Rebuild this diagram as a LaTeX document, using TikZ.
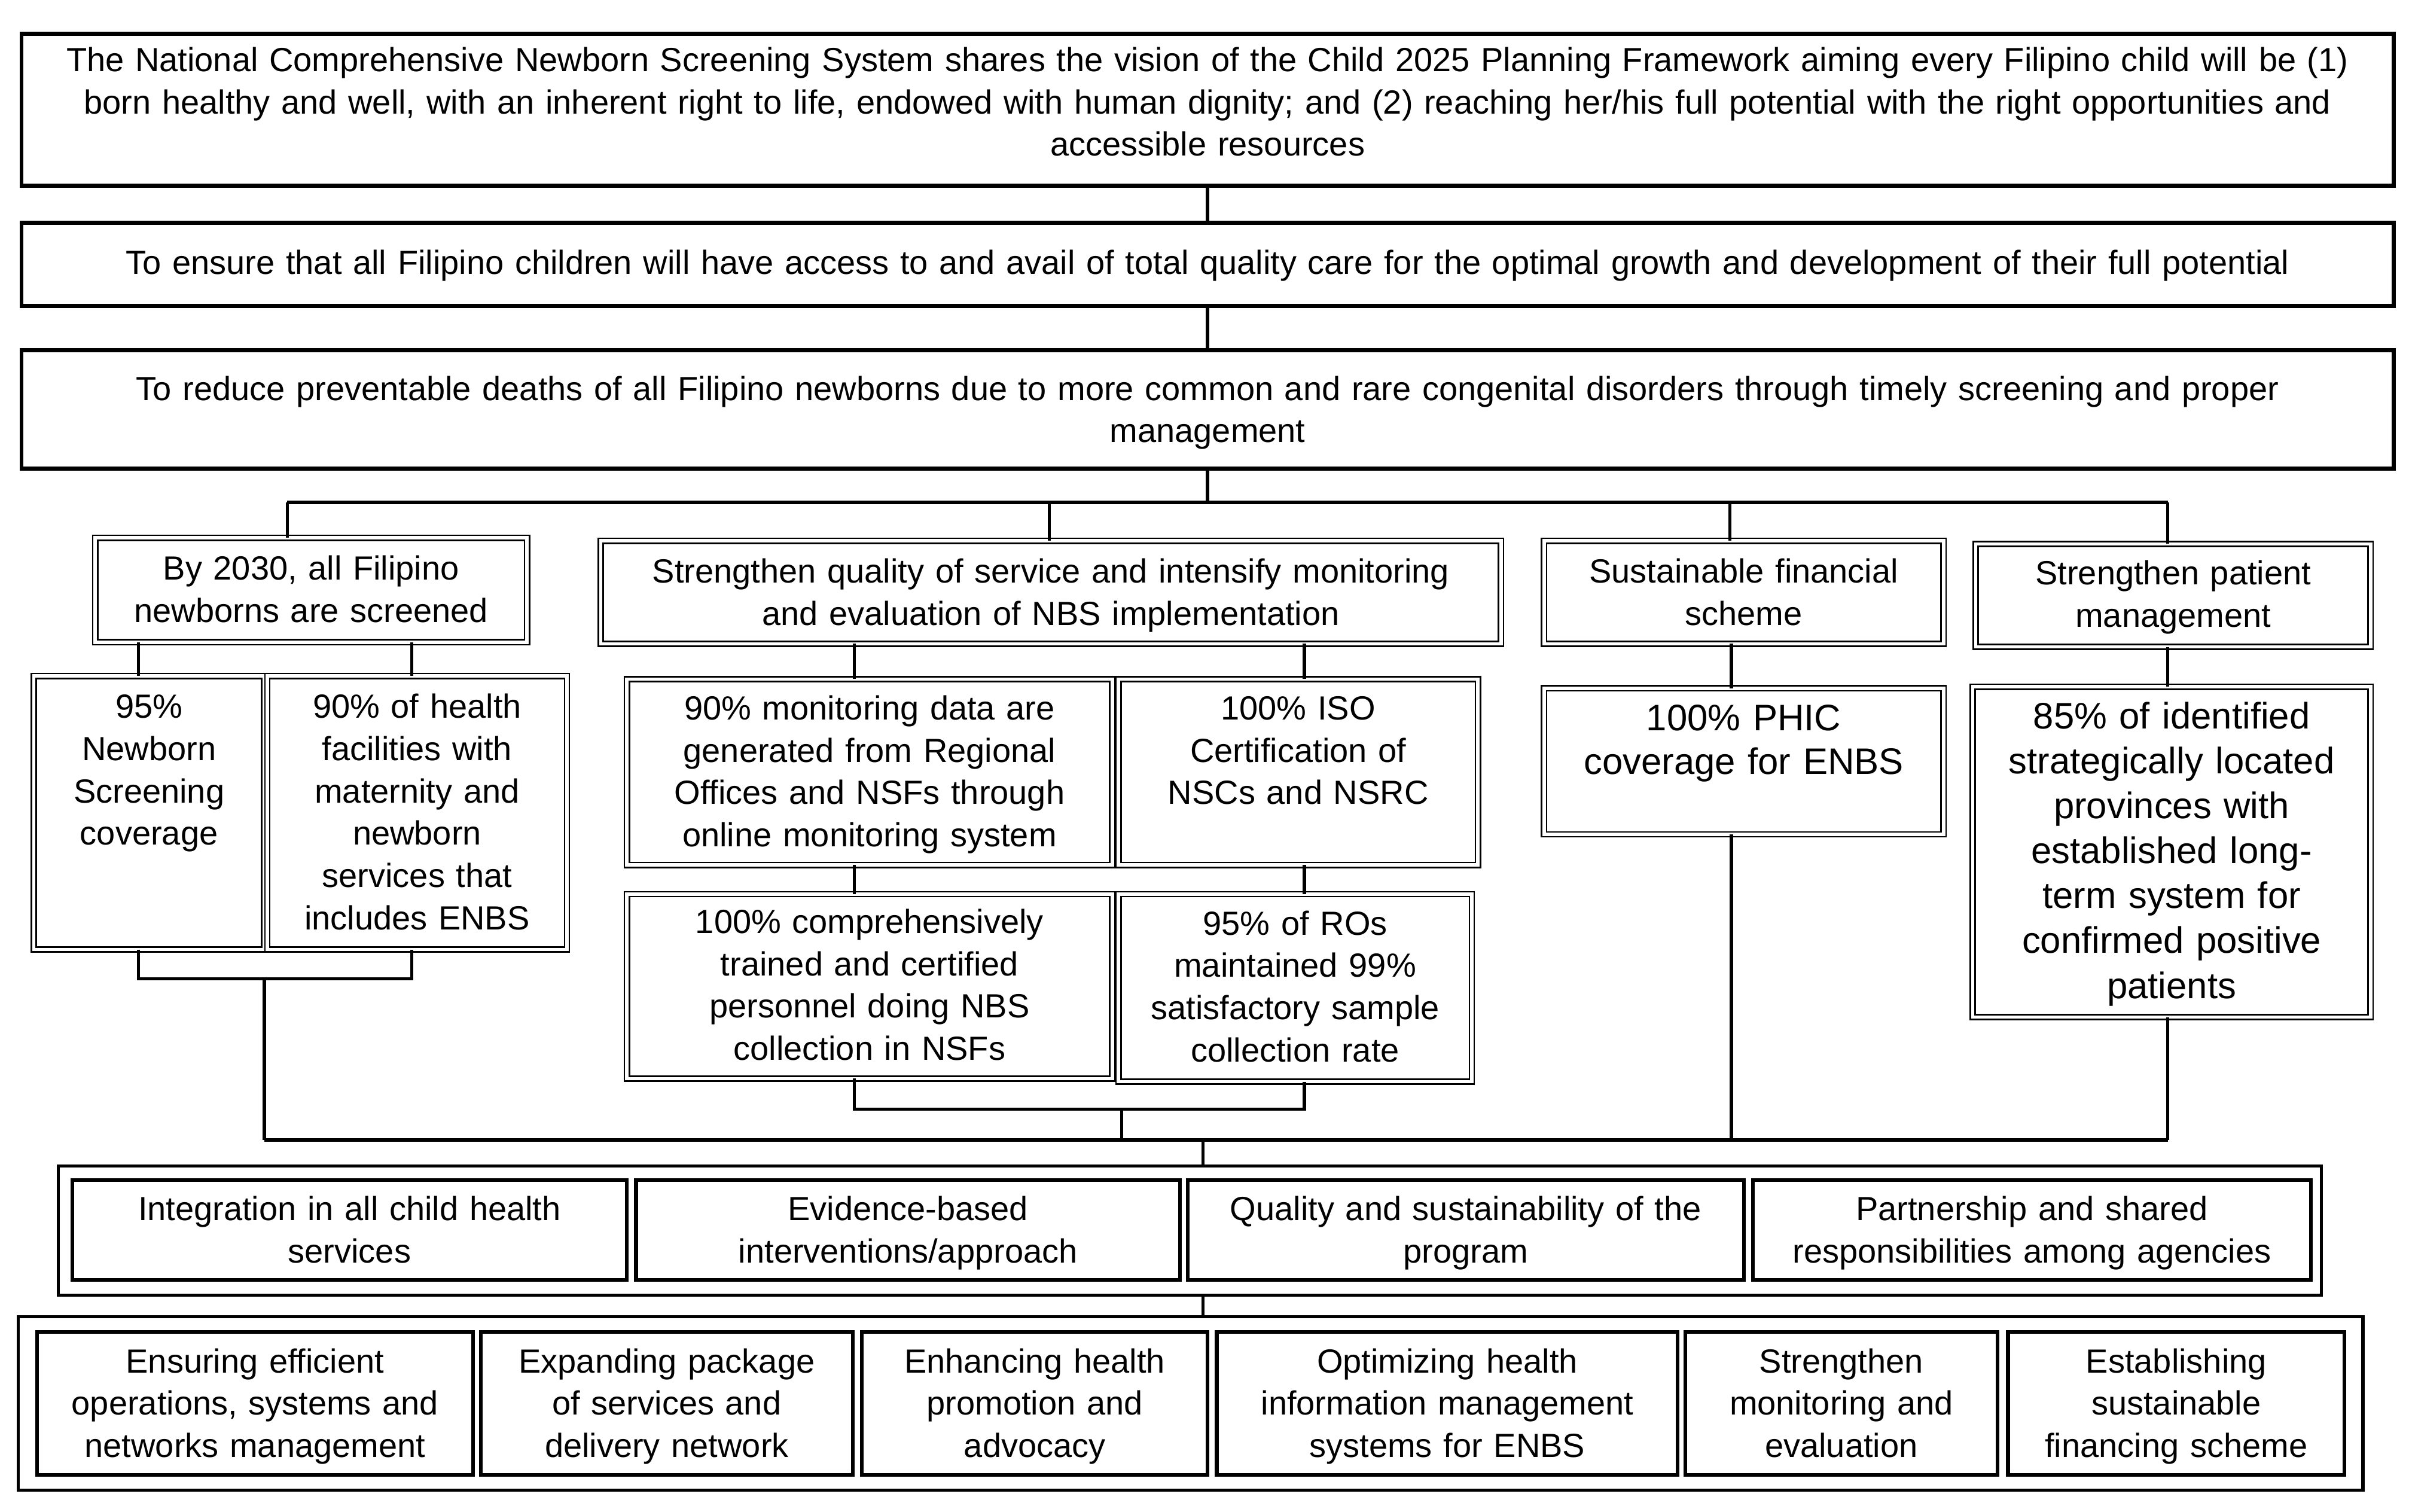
\documentclass[tikz,border=0pt]{standalone}
\usepackage{fontspec}
\setmainfont{Liberation Sans}
\tikzset{
 every node/.style={inner sep=0pt, outer sep=0pt},
 plainbox/.style={draw, line width=1.3pt},
 dblbox/.style={draw, line width=0.5pt, double, double distance=1.1pt},
 outbox/.style={draw, line width=1pt},
 inbox/.style={draw, line width=1.2pt},
 txt/.style={anchor=base, align=center, font=\fontsize{10.9}{13.75}\selectfont},
 bigtxt/.style={font=\fontsize{12}{14.25}\selectfont},
 bigtxtb/.style={font=\fontsize{12}{14.6}\selectfont},
 conn/.style={line width=1.05pt},
}
\newcommand\mkbx[9]{%
 \pgfmathsetmacro\mybw{(#4-#2)*0.5}%
 \pgfmathsetmacro\mybh{(#5-#3)*0.5}%
 \pgfmathsetmacro\mytw{(#4-#2-8)*0.5}%
 \pgfmathsetmacro\mybase{#7+1.5}%
 \node[#6, minimum width=\mybw pt, minimum height=\mybh pt] (#1) at ({(#2+#4)/2},{(#3+#5)/2}) {};
 \node[txt, #8, text width=\mytw pt] (#1t) at ({(#2+#4)/2},\mybase) {#9};}
\begin{document}
\begin{tikzpicture}[x=0.5pt, y=-0.5pt]
\useasboundingbox (0,0) rectangle (1568,984);
% top level boxes
\mkbx{L1}{14}{22}{1558}{121}{plainbox}{45}{}{The National Comprehensive Newborn Screening System shares the vision of the Child 2025 Planning Framework aiming every Filipino child will be (1)\\ born healthy and well, with an inherent right to life, endowed with human dignity; and (2) reaching her/his full potential with the right opportunities and\\ accessible resources}
\mkbx{L2}{14}{145}{1558}{199}{plainbox}{177}{}{To ensure that all Filipino children will have access to and avail of total quality care for the optimal growth and development of their full potential}
\mkbx{L3}{14}{228}{1558}{305}{plainbox}{259}{}{To reduce preventable deaths of all Filipino newborns due to more common and rare congenital disorders through timely screening and proper\\ management}
% goals
\mkbx{G1}{62}{350}{343}{418}{dblbox}{376}{}{By 2030, all Filipino\\ newborns are screened}
\mkbx{G2}{391}{352}{977}{419}{dblbox}{378}{}{Strengthen quality of service and intensify monitoring\\ and evaluation of NBS implementation}
\mkbx{G3}{1005}{352}{1265}{419}{dblbox}{378}{}{Sustainable financial\\ scheme}
\mkbx{G4}{1286}{354}{1543}{421}{dblbox}{379}{}{Strengthen patient\\ management}
% targets
\mkbx{A1}{22}{440}{172}{618}{dblbox}{466}{}{95\%\\ Newborn\\ Screening\\ coverage}
\mkbx{A2}{174}{440}{369}{618}{dblbox}{466}{}{90\% of health\\ facilities with\\ maternity and\\ newborn\\ services that\\ includes ENBS}
\mkbx{B1}{408}{442}{724}{563}{dblbox}{467}{}{90\% monitoring data are\\ generated from Regional\\ Offices and NSFs through\\ online monitoring system}
\mkbx{B2}{728}{442}{962}{563}{dblbox}{467}{}{100\% ISO\\ Certification of\\ NSCs and NSRC}
\mkbx{B3}{408}{582}{724}{702}{dblbox}{606}{}{100\% comprehensively\\ trained and certified\\ personnel doing NBS\\ collection in NSFs}
\mkbx{B4}{728}{582}{958}{704}{dblbox}{607}{}{95\% of ROs\\ maintained 99\%\\ satisfactory sample\\ collection rate}
\mkbx{C1}{1005}{448}{1265}{543}{dblbox}{474}{bigtxt}{100\% PHIC\\ coverage for ENBS}
\mkbx{D1}{1284}{447}{1543}{662}{dblbox}{473}{bigtxtb}{85\% of identified\\ strategically located\\ provinces with\\ established long-\\ term system for\\ confirmed positive\\ patients}
% principles
\node[outbox, minimum width=736.5pt, minimum height=42pt] (P) at ({(38+1511)/2},{(759+843)/2}) {};
\mkbx{P1}{47}{768}{408}{833}{inbox}{793}{}{Integration in all child health\\ services}
\mkbx{P2}{414}{768}{768}{833}{inbox}{793}{}{Evidence-based\\ interventions/approach}
\mkbx{P3}{773}{768}{1135}{833}{inbox}{793}{}{Quality and sustainability of the\\ program}
\mkbx{P4}{1141}{768}{1504}{833}{inbox}{793}{}{Partnership and shared\\ responsibilities among agencies}
% strategies
\node[outbox, minimum width=763pt, minimum height=56.5pt] (S) at ({(12+1538)/2},{(857+970)/2}) {};
\mkbx{S1}{24}{867}{308}{960}{inbox}{892}{}{Ensuring efficient\\ operations, systems and\\ networks management}
\mkbx{S2}{313}{867}{555}{960}{inbox}{892}{}{Expanding package\\ of services and\\ delivery network}
\mkbx{S3}{561}{867}{786}{960}{inbox}{892}{}{Enhancing health\\ promotion and\\ advocacy}
\mkbx{S4}{792}{867}{1092}{960}{inbox}{892}{}{Optimizing health\\ information management\\ systems for ENBS}
\mkbx{S5}{1097}{867}{1300}{960}{inbox}{892}{}{Strengthen\\ monitoring and\\ evaluation}
\mkbx{S6}{1307}{867}{1526}{960}{inbox}{892}{}{Establishing\\ sustainable\\ financing scheme}
% connectors
\coordinate (j0) at (786,327);
\coordinate (jA) at (187,327);
\coordinate (jB) at (683,327);
\coordinate (jC) at (1126,327);
\coordinate (jD) at (1411,327);
\draw[conn] (L1.south) -- (L2.north);
\draw[conn] (L2.south) -- (L3.north);
\draw[conn] (L3.south) -- (j0);
\draw[conn] (jA) -- (jD);
\draw[conn] (jA) -- (jA |- G1.north);
\draw[conn] (jB) -- (jB |- G2.north);
\draw[conn] (jC) -- (jC |- G3.north);
\draw[conn] (jD) -- (jD |- G4.north);
\coordinate (xa1) at (90,637);
\coordinate (xa2) at (268,637);
\coordinate (xam) at (172,637);
\coordinate (m1) at (172,742);
\coordinate (m2) at (1411,742);
\draw[conn] (G1.south -| xa1) -- (A1.north -| xa1);
\draw[conn] (G1.south -| xa2) -- (A2.north -| xa2);
\draw[conn] (A1.south -| xa1) -- (xa1) -- (xa2) -- (A2.south -| xa2);
\draw[conn] (xam) -- (m1);
\draw[conn] (m1) -- (m2);
\coordinate (xb1) at (556,722);
\coordinate (xb2) at (849,722);
\coordinate (xbm) at (730,722);
\draw[conn] (G2.south -| xb1) -- (B1.north -| xb1);
\draw[conn] (G2.south -| xb2) -- (B2.north -| xb2);
\draw[conn] (B1.south -| xb1) -- (B3.north -| xb1);
\draw[conn] (B2.south -| xb2) -- (B4.north -| xb2);
\draw[conn] (B3.south -| xb1) -- (xb1) -- (xb2) -- (B4.south -| xb2);
\draw[conn] (xbm) -- (xbm |- m1);
\coordinate (xc) at (1127,742);
\draw[conn] (G3.south -| xc) -- (C1.north -| xc);
\draw[conn] (C1.south -| xc) -- (xc);
\draw[conn] (G4.south -| m2) -- (D1.north -| m2);
\draw[conn] (D1.south -| m2) -- (m2);
\coordinate (xp) at (783,742);
\draw[conn] (xp) -- (xp |- P.north);
\draw[conn] (P.south -| xp) -- (S.north -| xp);
\end{tikzpicture}
\end{document}
